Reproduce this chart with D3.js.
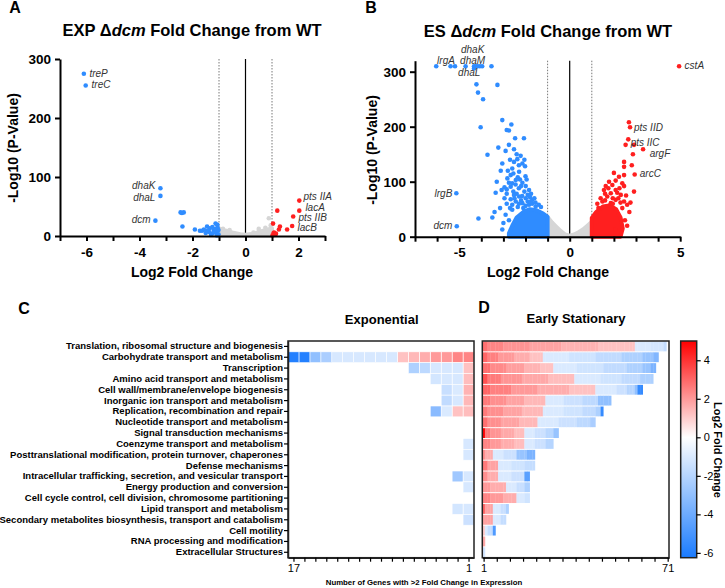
<!DOCTYPE html>
<html><head><meta charset="utf-8">
<script src="https://cdn.jsdelivr.net/npm/d3@7"></script>
<style>
body{margin:0;background:#fff;}
svg{font-family:"Liberation Sans",Arial,Helvetica,sans-serif;}
</style></head><body>
<svg id="c" width="725" height="588"></svg>
<script>
// ---------------- DATA ----------------
// Volcano A (exponential): [log2FC, -log10 p]
const expBlue = [[-6.1,275],[-6.03,255],[-3.21,81],[-3.21,68],[-3.4,26],[-2.45,40],[-2.33,40],[-2.4,39],[-2.38,16],[-1.91,11],[-1.72,9],[-1.64,9],[-1.57,11],[-1.45,16],[-1.35,13],[-1.2,10],[-1.13,21],[-1.06,19],[-1.26,4],[-1.38,7],[-1.02,10],[-1.1,5],[-1.05,14],[-1.15,8],[-1.3,2],[-1.5,5],[-1.02,3],[-1.08,1],[-1.2,6],[-1.45,9],[-1.12,12],[-1.25,15]];
const expRed = [[2.03,60],[1.2,43],[2.03,43],[1.8,33],[1.76,17],[1.3,16],[1.26,11],[1.57,11],[1.04,21],[1.06,5],[1.13,3],[1.1,2],[1.08,6],[1.02,1],[1.15,4]];
const expGrey = [[0.88,30],[0.5,12],[-0.6,10],[0.75,14],[-0.85,12],[0.95,18],[0.3,6]];
const expGreyCloud = [[-1.0,0],[-1.0,13],[-0.8,10],[-0.5,6],[-0.2,3],[0,2],[0.3,4],[0.6,8],[0.85,11],[1.0,13],[1.0,0]];
const expLabels = [["treP",-5.89,274.6,"start"],["treC",-5.81,254.7,"start"],["dhaK",-3.4,83.5,"end"],["dhaL",-3.4,64.5,"end"],["dcm",-3.58,27,"end"],["pts IIA",2.19,65.6,"start"],["lacA",2.26,47.5,"start"],["pts IIB",2.0,30.5,"start"],["lacB",1.96,13.5,"start"]];

// Volcano B (early stationary)
const esBlue = [[-6.04,310],[-5.39,310],[-5.19,310],[-4.71,310],[-4.33,310],[-4.26,310],[-4.18,310],[-4.07,310],[-3.96,310],[-3.54,310],[-4.33,306],[-4.22,277],[-4.15,262],[-3.27,276],[-3.92,250],[-3.05,212],[-2.64,204],[-4.03,199],[-2.85,194],[-2.75,193],[-2.47,179],[-2.07,179],[-3.23,162],[-2.75,167],[-2.52,159],[-2.9,156],[-3.72,149],[-2.22,147],[-2.37,141],[-2.52,136],[-2.14,133],[-3.05,133],[-2.02,128],[-3.12,120],[-2.6,124],[-2.29,118],[-2.67,112],[-2.82,106],[-2.44,103],[-2.14,98],[-2.6,97],[-1.99,92],[-2.67,91],[-3.08,85],[-2.85,86],[-3.35,80],[-5.13,79],[-1.84,85],[-2.52,76],[-2.29,73],[-1.99,70],[-1.69,67],[-2.67,68],[-2.44,64],[-2.14,61],[-1.84,58],[-1.54,55],[-2.6,58],[-2.6,49],[-4.13,33],[-3.5,35],[-3.05,13],[-5.11,19],[-2.3,88],[-2.0,110],[-2.55,82],[-1.9,76],[-2.35,54],[-2.1,52],[-1.7,60],[-2.9,40],[-2.75,30],[-3.0,25],[-1.4,58],[-2.2,66],[-1.6,70],[-2.45,95],[-2.8,120],[-2.3,130],[-3.3,100],[-2.95,70],[-2.4,150],[-2.7,140],[-2.05,140],[-2.55,115],[-2.35,108],[-1.95,104],[-2.75,98],[-2.2,92],[-2.05,82],[-1.75,78],[-2.4,78],[-2.15,74],[-1.9,64],[-2.5,70],[-1.75,64],[-2.85,60],[-2.0,56],[-1.55,62],[-2.3,60],[-3.15,52],[-2.7,52],[-1.3,54],[-1.8,72],[-3.4,45],[-2.95,90],[-2.25,104],[-2.85,78]];
const esRed = [[4.95,310],[2.68,208],[2.73,199],[2.65,177],[2.53,167],[2.91,167],[3.32,159],[2.86,150],[2.46,136],[2.81,130],[2.46,127],[2.94,113],[2.0,116],[2.46,112],[2.23,109],[2.08,102],[1.78,100],[2.38,97],[1.93,94],[1.63,92],[2.46,92],[2.91,82],[1.55,85],[2.08,85],[1.86,79],[2.31,76],[1.7,73],[2.08,67],[2.46,64],[1.48,64],[1.86,61],[2.38,52],[2.08,13],[2.2,70],[1.6,78],[2.6,58],[2.7,45],[2.5,30],[2.6,20],[1.3,52],[1.95,60],[2.25,88],[1.75,88],[2.15,80],[1.4,70],[1.95,70],[2.3,62],[1.6,66],[2.55,75],[1.25,60],[2.75,62]];
const esGreyCloud = [[-1.0,0],[-1.0,36],[-0.8,26],[-0.6,18],[-0.4,10],[-0.2,4],[0,2],[0.2,4],[0.4,8],[0.6,13],[0.8,20],[1.0,27],[1.0,0]];
const esBlueCloud = [[-1.0,0],[-1.0,36],[-1.2,42],[-1.5,48],[-1.8,50],[-2.1,45],[-2.4,35],[-2.6,20],[-2.75,6],[-2.75,0]];
const esRedCloud = [[1.0,0],[1.0,34],[1.2,45],[1.5,55],[1.8,57],[2.1,50],[2.3,35],[2.4,15],[2.3,0]];
const esLabels = [["lrgA",-6.0,319.5,"start"],["dhaK",-4.92,338,"start"],["dhaM",-4.96,319.5,"start"],["dhaL",-5.05,297.6,"start"],["cstA",5.2,310,"start"],["pts IID",2.91,197,"start"],["pts IIC",2.76,170,"start"],["argF",3.62,149.5,"start"],["arcC",3.17,113.5,"start"],["lrgB",-5.31,77.6,"end"],["dcm",-5.31,18.2,"end"]];

const xTicksA = [-7,-6,-5,-4,-3,-2,-1,0,1,2,3];
const xLabA = [-6,-4,-2,0,2];
const xTicksB = [-7,-6,-5,-4,-3,-2,-1,0,1,2,3,4,5];
const xLabB = [-5,0,5];
const yTicksAB = [0,100,200,300];

// COG categories
const categories = ["Translation, ribosomal structure and biogenesis","Carbohydrate transport and metabolism","Transcription","Amino acid transport and metabolism","Cell wall/membrane/envelope biogenesis","Inorganic ion transport and metabolism","Replication, recombination and repair","Nucleotide transport and metabolism","Signal transduction mechanisms","Coenzyme transport and metabolism","Posttranslational modification, protein turnover, chaperones","Defense mechanisms","Intracellular trafficking, secretion, and vesicular transport","Energy production and conversion","Cell cycle control, cell division, chromosome partitioning","Lipid transport and metabolism","Secondary metabolites biosynthesis, transport and catabolism","Cell motility","RNA processing and modification","Extracellular Structures"];

// Heatmap rows: runs of [log2FC, number of genes], ordered from gene #1 (highest) onward
const expRuns = [
 [],
 [[2.4,2],[2.0,2],[1.6,1],[1.4,1],[1.2,1],[-1.1,6],[-2.3,1],[-3.0,1],[-6.0,2]],
 [[1.2,1],[-1.1,3],[-1.8,1],[-2.2,1]],
 [[1.3,1],[-1.1,2],[-1.2,1]],
 [[1.5,1],[-1.0,1],[-1.5,1]],
 [[1.4,1],[-1.1,1],[-1.7,1]],
 [[1.3,1],[1.2,1],[-1.0,1],[-3.2,1]],
 [],[],
 [[-1.1,1]],
 [[-1.1,1]],
 [],
 [[-1.1,1],[-2.6,1]],
 [[-1.1,1]],
 [],
 [[-1.1,1],[-1.2,1]],
 [[-1.4,1]],
 [],[],[]
];
const esRuns = [
 [[2.8,2],[2.4,6],[2.1,10],[1.8,12],[1.5,14],[1.2,14],[-1.0,6],[-1.2,5],[-1.6,1]],
 [[3.0,2],[2.5,4],[2.0,6],[1.6,6],[1.2,5],[-1.0,10],[-1.3,10],[-1.7,10],[-2.2,8],[-2.8,4],[-3.4,2]],
 [[2.8,3],[2.3,6],[1.9,7],[1.5,6],[1.2,5],[-1.0,9],[-1.3,10],[-1.7,9],[-2.2,6],[-2.8,3],[-3.6,2]],
 [[3.4,2],[2.6,5],[2.1,8],[1.7,10],[1.3,10],[-1.0,10],[-1.3,8],[-1.7,7],[-2.2,5]],
 [[3.0,3],[2.5,8],[2.0,10],[1.6,12],[1.2,10],[-1.0,8],[-1.4,4],[-2.0,3],[-3.0,1],[-5.5,2]],
 [[2.6,3],[2.2,6],[1.8,7],[1.4,8],[-1.0,7],[-1.4,7],[-1.8,6],[-3.0,5]],
 [[2.6,2],[2.2,6],[1.8,7],[1.4,8],[-1.0,8],[-1.3,7],[-1.7,5],[-2.2,2],[-5.5,1]],
 [[2.8,2],[2.2,5],[1.8,7],[1.4,7],[-1.0,8],[-1.4,7],[-1.8,5],[-2.3,2]],
 [[4.9,1],[2.6,2],[2.1,4],[1.7,5],[1.3,4],[-1.0,4],[-1.4,4],[-1.9,3],[-2.8,2]],
 [[2.4,3],[2.0,4],[1.6,5],[1.3,4],[-1.0,4],[-1.4,4],[-2.0,3]],
 [[2.2,1],[1.6,3],[-1.0,4],[-1.4,5],[-2.8,4],[-3.6,3]],
 [[2.6,2],[1.8,4],[-1.0,5],[-1.3,5],[-1.6,4]],
 [[2.2,2],[1.6,4],[-1.0,5],[-1.4,5],[-4.5,2]],
 [[2.0,3],[1.6,6],[-1.0,4],[-1.5,3],[-2.2,2]],
 [[2.4,3],[2.0,5],[1.6,5],[-1.0,3],[-1.3,2]],
 [[3.0,1],[1.8,3],[-1.0,3],[-1.5,2],[-2.2,1]],
 [[1.8,4],[-1.0,3],[-1.6,2]],
 [[1.0,1],[-1.0,1],[-1.6,2],[-4.8,1]],
 [[1.7,1]],
 [[-1.2,1]]
];
const expCount = 17, esCount = 71;
const expTicks = d3.range(1,18), esTicks = d3.range(1,72,5);
const cbTicks = [-6,-4,-2,0,2,4];

// ---------------- DRAW ----------------
const svg = d3.select("#c");
const BLUE="#2f8cff", RED="#ff1f1f", GREY="#d6d6d6";

function styleAxis(g, fs, bold){
  g.select(".domain").attr("stroke","#000").attr("stroke-width",2);
  g.selectAll(".tick line").attr("stroke","#000").attr("stroke-width",2);
  g.selectAll(".tick text").attr("font-size",fs).attr("font-weight",bold?"bold":"normal").attr("fill","#000").attr("font-family","Liberation Sans, Arial, sans-serif");
}
function txt(x,y,s,o={}){
  const t = svg.append("text").attr("x",x).attr("y",y).text(s)
    .attr("font-size",o.fs||12).attr("font-weight",o.fw||"bold")
    .attr("text-anchor",o.anchor||"middle").attr("dominant-baseline",o.base||"middle");
  if(o.rot) t.attr("transform",`rotate(${o.rot},${x},${y})`);
  if(o.style) t.attr("font-style",o.style);
  return t;
}

function volcano(cfg){
  const x = d3.scaleLinear().domain(cfg.xd).range(cfg.xr);
  const y = d3.scaleLinear().domain(cfg.yd).range(cfg.yr);
  const g = svg.append("g");
  const yTop = y(cfg.yd[1]), yBot = y(0);
  [-1,1].forEach(v=>g.append("line").attr("x1",x(v)).attr("x2",x(v)).attr("y1",yTop).attr("y2",yBot)
      .attr("stroke","#555").attr("stroke-width",0.8).attr("stroke-dasharray","1.5,1.5"));
  g.append("line").attr("x1",x(0)).attr("x2",x(0)).attr("y1",yTop).attr("y2",yBot).attr("stroke","#000").attr("stroke-width",1.2);
  const line = d3.line().x(d=>x(d[0])).y(d=>y(d[1]));
  cfg.clouds.forEach(([pts,col])=>{
    g.append("path").attr("d",line(pts)+"Z").attr("fill",col).attr("stroke",col).attr("stroke-width",4).attr("stroke-linejoin","round");
  });
  cfg.points.forEach(([pts,col])=>{
    g.selectAll(null).data(pts).enter().append("circle").attr("cx",d=>x(d[0])).attr("cy",d=>y(d[1])).attr("r",2.3).attr("fill",col);
  });
  cfg.labels.forEach(([s,lx,ly,a])=>{
    g.append("text").attr("x",x(lx)).attr("y",y(ly)).text(s).attr("font-size",10).attr("font-style","italic")
      .attr("fill","#333").attr("text-anchor",a).attr("dominant-baseline","middle");
  });
  const xa = g.append("g").attr("transform",`translate(0,${yBot})`)
    .call(d3.axisBottom(x).tickValues(cfg.xt).tickFormat(d=>cfg.xl.includes(d)?String(d):"").tickSize(5).tickSizeOuter(0).tickPadding(6));
  styleAxis(xa,13.5,true);
  const ya = g.append("g").attr("transform",`translate(${cfg.xr[0]},0)`)
    .call(d3.axisLeft(y).tickValues(yTicksAB).tickFormat(d=>String(d)).tickSize(5).tickSizeOuter(0).tickPadding(4));
  styleAxis(ya,13.5,true);
}

volcano({xd:[-7,3],xr:[60,325],yd:[0,300],yr:[236,59],xt:xTicksA,xl:xLabA,
  clouds:[[expGreyCloud,GREY]],points:[[expGrey,GREY],[expBlue,BLUE],[expRed,RED]],labels:expLabels});
volcano({xd:[-7,5],xr:[415,680.2],yd:[0,320],yr:[236.7,60.7],xt:xTicksB,xl:xLabB,
  clouds:[[esGreyCloud,GREY],[esBlueCloud,BLUE],[esRedCloud,RED]],points:[[esBlue,BLUE],[esRed,RED]],labels:esLabels});

function title(x,y,pre,ital,post){
  const t = svg.append("text").attr("x",x).attr("y",y).attr("text-anchor","middle").attr("dominant-baseline","middle")
    .attr("font-size",16.5).attr("font-weight","bold");
  t.append("tspan").text(pre);
  t.append("tspan").attr("font-style","italic").text(ital);
  t.append("tspan").text(post);
}
title(192,32,"EXP \u0394","dcm"," Fold Change from WT");
title(548,33,"ES \u0394","dcm"," Fold Change from WT");
txt(15,9,"A",{fs:16});
txt(371,9,"B",{fs:16});
txt(24,310,"C",{fs:16});
txt(484,309,"D",{fs:16});
txt(192,273,"Log2 Fold Change",{fs:14});
txt(548,273,"Log2 Fold Change",{fs:14});
txt(14,148,"-Log10 (P-Value)",{fs:14,rot:-90});
txt(373,150,"-Log10 (P-Value)",{fs:14,rot:-90});

// ---------------- HEATMAPS ----------------
const color = d3.scaleLinear().domain([-6.25,0,5]).range(["#1a7bff","#ffffff","#ff0000"]).clamp(true);
const hTop = 341, hBot = 557.7;
const yRow = d3.scaleBand().domain(categories).range([hTop,hBot]);
function expand(runs){const o=[];runs.forEach(([v,n])=>{for(let i=0;i<n;i++)o.push(v);});return o;}

// Panel C
const colC = d3.scaleLinear().domain([0.5,expCount+0.5]).range([474,288]);
const gC = svg.append("g");
expRuns.forEach((runs,r)=>{
  expand(runs).forEach((v,i)=>{
    const k=i+1;
    gC.append("rect").attr("x",colC(k+0.5)).attr("width",colC(k-0.5)-colC(k+0.5))
      .attr("y",yRow(categories[r])).attr("height",yRow.bandwidth())
      .attr("fill",color(v)).attr("stroke","#fff").attr("stroke-width",0.6);
  });
});
gC.append("rect").attr("x",288).attr("y",hTop).attr("width",474-288).attr("height",hBot-hTop).attr("fill","none").attr("stroke","#222").attr("stroke-width",1.5);
const yaC = gC.append("g").attr("transform","translate(288,0)").call(d3.axisLeft(yRow).tickSize(4).tickSizeOuter(0).tickPadding(1));
yaC.select(".domain").attr("stroke","#222").attr("stroke-width",1.5);
yaC.selectAll(".tick line").attr("stroke","#000").attr("stroke-width",1.2);
yaC.selectAll(".tick text").attr("font-size",9.5).attr("font-weight","bold").attr("fill","#000").attr("font-family","Liberation Sans, Arial, sans-serif");
const xaC = gC.append("g").attr("transform",`translate(0,${hBot})`)
  .call(d3.axisBottom(colC).tickValues(expTicks).tickFormat(d=>(d===1||d===expCount)?String(d):"").tickSize(4).tickSizeOuter(0).tickPadding(3));
xaC.select(".domain").attr("stroke","#222").attr("stroke-width",1.5);
xaC.selectAll(".tick line").attr("stroke","#000").attr("stroke-width",1.2);
xaC.selectAll(".tick text").attr("font-size",11).attr("fill","#000");

// Panel D
const colD = d3.scaleLinear().domain([0.5,esCount+0.5]).range([482.3,669]);
const gD = svg.append("g");
esRuns.forEach((runs,r)=>{
  expand(runs).forEach((v,i)=>{
    const k=i+1;
    gD.append("rect").attr("x",colD(k-0.5)).attr("width",colD(k+0.5)-colD(k-0.5)+0.3)
      .attr("y",yRow(categories[r])+0.5).attr("height",yRow.bandwidth()-1)
      .attr("fill",color(v));
  });
});
gD.append("rect").attr("x",482.3).attr("y",hTop).attr("width",669-482.3).attr("height",hBot-hTop).attr("fill","none").attr("stroke","#222").attr("stroke-width",1.5);
const xaD = gD.append("g").attr("transform",`translate(0,${hBot})`)
  .call(d3.axisBottom(colD).tickValues(esTicks).tickFormat(d=>(d===1||d===esCount)?String(d):"").tickSize(4).tickSizeOuter(0).tickPadding(3));
xaD.select(".domain").attr("stroke","#222").attr("stroke-width",1.5);
xaD.selectAll(".tick line").attr("stroke","#000").attr("stroke-width",1.2);
xaD.selectAll(".tick text").attr("font-size",11).attr("fill","#000");

txt(381.7,321,"Exponential",{fs:13});
txt(576,320,"Early Stationary",{fs:13});
txt(424,583,"Number of Genes with >2 Fold Change in Expression",{fs:7.8});

// Colorbar
const cb = d3.scaleLinear().domain([-6.25,5]).range([hBot,hTop]);
const defs = svg.append("defs");
const grad = defs.append("linearGradient").attr("id","cbg").attr("x1",0).attr("x2",0).attr("y1",1).attr("y2",0);
[-6.25,-3,0,2.5,5].forEach(v=>grad.append("stop").attr("offset",(v+6.25)/11.25).attr("stop-color",color(v)));
svg.append("rect").attr("x",680.7).attr("y",hTop).attr("width",16).attr("height",hBot-hTop).attr("fill","url(#cbg)").attr("stroke","#222").attr("stroke-width",1.5);
const cba = svg.append("g").attr("transform","translate(696.7,0)").call(d3.axisRight(cb).tickValues(cbTicks).tickFormat(d=>String(d)).tickSize(4).tickSizeOuter(0).tickPadding(3));
cba.select(".domain").remove();
cba.selectAll(".tick line").attr("stroke","#000").attr("stroke-width",1.2);
cba.selectAll(".tick text").attr("font-size",11).attr("fill","#000");
txt(717,450,"Log2 Fold Change",{fs:11,rot:90});
</script></body></html>
